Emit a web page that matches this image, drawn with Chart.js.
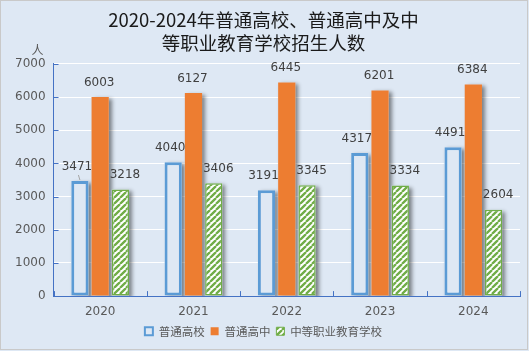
<!DOCTYPE html>
<html>
<head>
<meta charset="utf-8">
<script src="https://cdn.jsdelivr.net/npm/chart.js@4.4.1/dist/chart.umd.min.js"></script>
<style>
  html, body { margin: 0; padding: 0; background: #ffffff; }
  #wrap { width: 529px; height: 351px; position: relative; }
  canvas { display: block; }
</style>
</head>
<body>
<div id="wrap"><canvas id="c" width="529" height="351"></canvas></div>
<script>
// ---- data ----
const years = ['2020', '2021', '2022', '2023', '2024'];
const colleges = [3471, 4040, 3191, 4317, 4491];      // 普通高校
const highSchools = [6003, 6127, 6445, 6201, 6384];   // 普通高中
const vocational = [3218, 3406, 3345, 3334, 2604];    // 中等职业教育学校
const seriesNames = ['普通高校', '普通高中', '中等职业教育学校'];
const titleLines = ['2020-2024年普通高校、普通高中及中', '等职业教育学校招生人数'];
const unitLabel = '人';

// ---- styles ----
const BG = '#dee8f4';
const BLUE = '#5b9bd5';
const ORANGE = '#ed7d31';
const GREEN = '#70ad47';
const AXIS = '#4472c4';

function makeHatch() {
  const s = 6;
  const c = document.createElement('canvas');
  c.width = s; c.height = s;
  const g = c.getContext('2d');
  g.fillStyle = '#ffffff';
  g.fillRect(0, 0, s, s);
  g.strokeStyle = GREEN;
  g.lineWidth = 2.3;
  g.beginPath();
  for (let k = -1; k <= 1; k++) {
    g.moveTo(k * s, s);
    g.lineTo(k * s + s, 0);
  }
  g.stroke();
  return g.createPattern(c, 'repeat');
}
const hatch = makeHatch();

const bgPlugin = {
  id: 'bg',
  beforeDraw(chart) {
    const ctx = chart.ctx;
    ctx.save();
    ctx.fillStyle = BG;
    ctx.fillRect(0, 0, chart.width, chart.height);
    ctx.strokeStyle = '#c9c9c9';
    ctx.lineWidth = 1;
    ctx.strokeRect(0.5, 0.5, chart.width - 2, chart.height - 2);
    ctx.restore();
  }
};

const shadowPlugin = {
  id: 'barShadow',
  beforeDatasetsDraw(chart) {
    const ctx = chart.ctx;
    const a = chart.chartArea;
    ctx.save();
    ctx.beginPath();
    ctx.rect(a.left, a.top - 20, a.right - a.left, a.bottom - a.top + 20);
    ctx.clip();
    ctx.shadowColor = 'rgba(0,0,0,0.45)';
    ctx.shadowBlur = 4;
    ctx.shadowOffsetX = 3;
    ctx.shadowOffsetY = 2;
    ctx.fillStyle = BG;
    chart.data.datasets.forEach((ds, i) => {
      chart.getDatasetMeta(i).data.forEach(el => {
        const p = el.getProps(['x', 'y', 'base', 'width'], true);
        ctx.fillRect(p.x - p.width / 2, p.y, p.width, p.base - p.y);
      });
    });
    ctx.restore();
  }
};

const labelOffsets = [-3, -1, 4.5];
const labelPlugin = {
  id: 'valueLabels',
  afterDatasetsDraw(chart) {
    const ctx = chart.ctx;
    ctx.save();
    ctx.font = '12px "DejaVu Sans"';
    ctx.fillStyle = '#404040';
    ctx.textAlign = 'center';
    ctx.textBaseline = 'middle';
    chart.data.datasets.forEach((ds, i) => {
      chart.getDatasetMeta(i).data.forEach((el, j) => {
        const p = el.getProps(['x', 'y'], true);
        ctx.fillText(String(ds.data[j]), p.x + labelOffsets[i], p.y - 14.5);
        if (i === 0 && j === 0) {
          ctx.save();
          ctx.strokeStyle = '#a6a6a6';
          ctx.lineWidth = 1;
          ctx.beginPath();
          ctx.moveTo(p.x - 1.5, p.y - 6);
          ctx.lineTo(p.x, p.y - 1);
          ctx.stroke();
          ctx.restore();
        }
      });
    });
    ctx.restore();
  }
};

const axisPlugin = {
  id: 'insideTicks',
  afterDraw(chart) {
    const ctx = chart.ctx;
    const a = chart.chartArea;
    const xs = chart.scales.x, ys = chart.scales.y;
    ctx.save();
    ctx.strokeStyle = AXIS;
    ctx.lineWidth = 1;
    ctx.beginPath();
    ys.ticks.forEach(t => {
      const y = Math.round(ys.getPixelForValue(t.value)) + 0.5;
      ctx.moveTo(a.left, y);
      ctx.lineTo(a.left + 5, y);
    });
    const half = (xs.getPixelForValue(1) - xs.getPixelForValue(0)) / 2;
    for (let i = 0; i <= years.length; i++) {
      const x = Math.round(xs.getPixelForValue(i) - half) + 0.5;
      ctx.moveTo(x, a.bottom);
      ctx.lineTo(x, a.bottom - 5);
    }
    ctx.stroke();
    // unit label
    ctx.font = '12px "Noto Sans CJK SC"';
    ctx.fillStyle = '#595959';
    ctx.textAlign = 'center';
    ctx.textBaseline = 'middle';
    ctx.fillText(unitLabel, a.left - 16, a.top - 14);
    ctx.restore();
  }
};

const chart = new Chart(document.getElementById('c'), {
  type: 'bar',
  data: {
    labels: years,
    datasets: [
      { label: seriesNames[0], data: colleges, backgroundColor: BG, borderColor: BLUE, borderWidth: 3, borderSkipped: false },
      { label: seriesNames[1], data: highSchools, backgroundColor: ORANGE, borderColor: ORANGE, borderWidth: 0 },
      { label: seriesNames[2], data: vocational, backgroundColor: hatch, borderColor: GREEN, borderWidth: 1.5, borderSkipped: false }
    ]
  },
  options: {
    responsive: false,
    animation: false,
    devicePixelRatio: 1,
    layout: { padding: { left: 7, right: 9, top: 0, bottom: 4 } },
    datasets: { bar: { categoryPercentage: 0.652, barPercentage: 0.85 } },
    scales: {
      x: {
        offset: true,
        grid: { display: false, drawTicks: false },
        border: { display: true, color: AXIS, width: 1 },
        ticks: { color: '#595959', font: { family: 'DejaVu Sans', size: 12 }, padding: 9 },
        afterFit(scale) { scale.height -= 9; }
      },
      y: {
        min: 0, max: 7000,
        ticks: { stepSize: 1000, color: '#595959', font: { family: 'DejaVu Sans', size: 12 }, padding: 8,
                 callback: (v) => String(v) },
        grid: { color: '#ffffff', lineWidth: 1, drawTicks: false },
        border: { display: true, color: AXIS, width: 1 }
      }
    },
    plugins: {
      title: {
        display: true,
        text: titleLines,
        color: '#1a1a1a',
        font: { family: 'Noto Sans CJK SC', size: 18.5, weight: 'normal', lineHeight: 1.243 },
        padding: { top: 8.5, bottom: 9.5 }
      },
      legend: {
        position: 'bottom',
        labels: {
          boxWidth: 8, boxHeight: 8, padding: 6,
          color: '#595959',
          font: { family: 'Noto Sans CJK SC', size: 11.5 },
          generateLabels(ch) {
            return ch.data.datasets.map((ds, i) => ({
              text: ds.label,
              fillStyle: ds.backgroundColor,
              strokeStyle: ds.borderColor,
              lineWidth: i === 0 ? 2 : (i === 2 ? 1 : 0),
              datasetIndex: i,
              hidden: false,
              fontColor: '#595959'
            }));
          }
        }
      },
      tooltip: { enabled: false }
    }
  },
  plugins: [bgPlugin, shadowPlugin, labelPlugin, axisPlugin]
});
</script>
</body>
</html>
